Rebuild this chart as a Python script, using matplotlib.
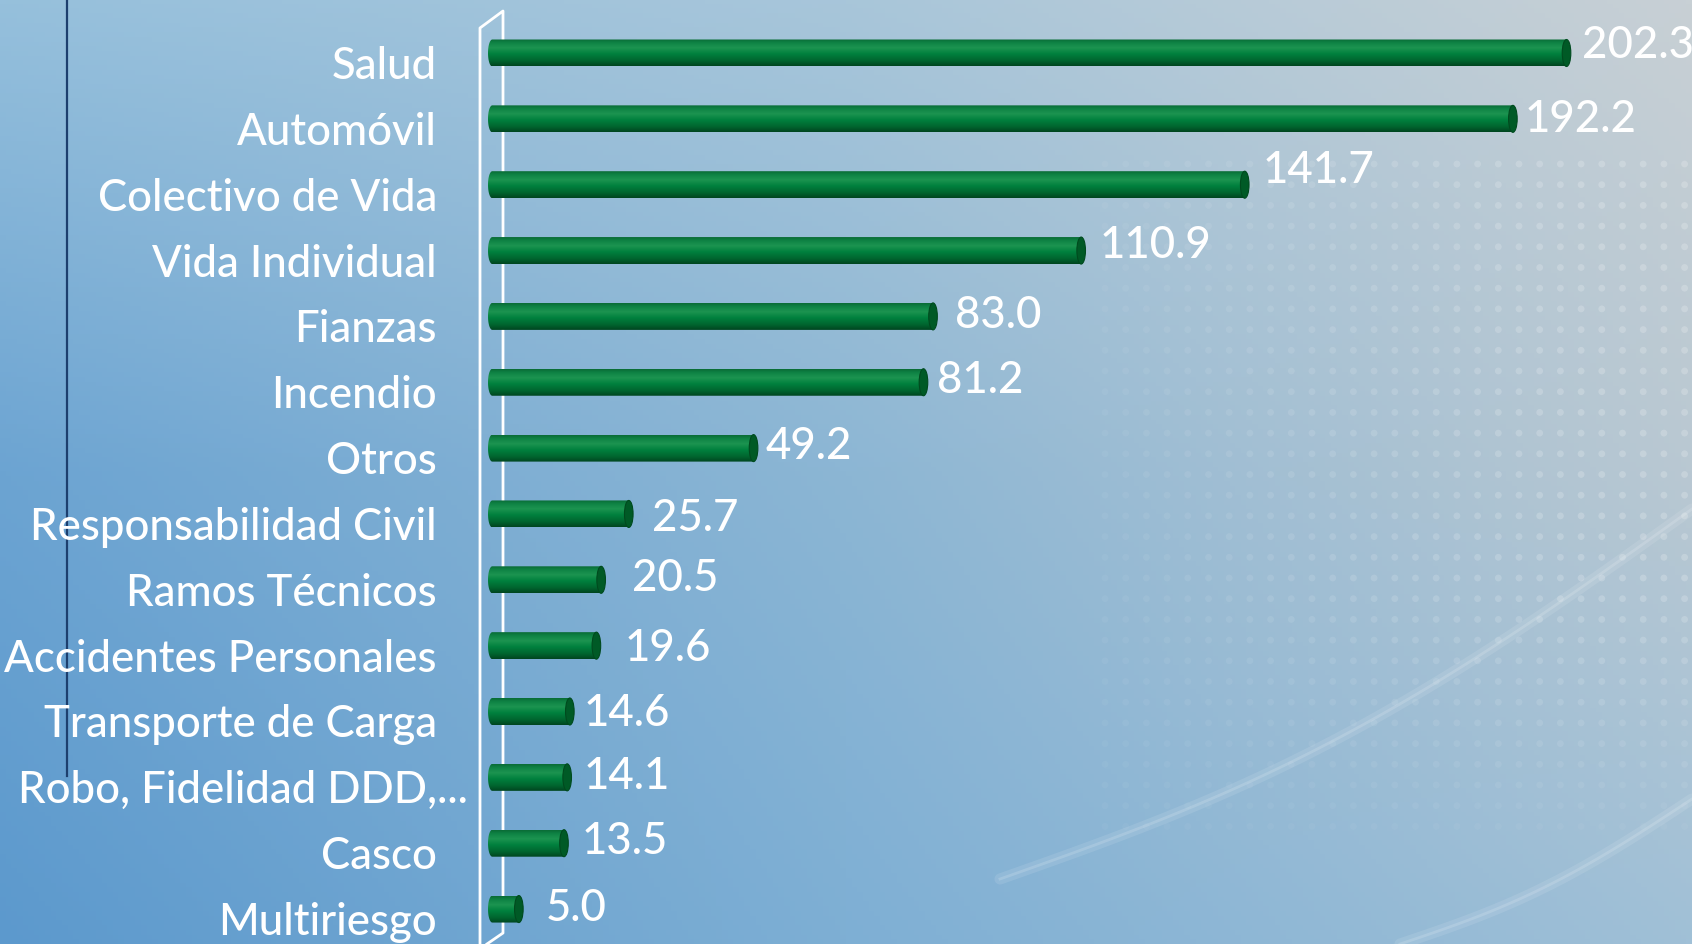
import numpy as np
import matplotlib
matplotlib.use('Agg')
import matplotlib.pyplot as plt
from matplotlib.path import Path
from matplotlib.patches import PathPatch, Ellipse

plt.rcParams['font.family'] = ['Lato', 'DejaVu Sans']

# data
ramos = ['Salud', 'Automóvil', 'Colectivo de Vida', 'Vida Individual', 'Fianzas',
         'Incendio', 'Otros', 'Responsabilidad Civil', 'Ramos Técnicos',
         'Accidentes Personales', 'Transporte de Carga', 'Robo, Fidelidad DDD,...',
         'Casco', 'Multiriesgo']
valores = [202.3, 192.2, 141.7, 110.9, 83.0, 81.2, 49.2, 25.7, 20.5, 19.6, 14.6, 14.1, 13.5, 5.0]

# value label nudges in pixels (Excel 3D places them a bit irregularly)
lbl_dx = [11, 8, 14, 14, 18, 10, 8, 19, 27, 24, 10, 12, 14, 23]
lbl_dy = [4, 12, -3, 6, 11, 10, 10, 16, 10, 14, 14, 11, 10, 11]

W, H = 1692, 945
fig = plt.figure(figsize=(W / 100, H / 100), dpi=100)

# background: soft blue gradient
bg = fig.add_axes([0, 0, 1, 1])
bg.set_xlim(0, W)
bg.set_ylim(H, 0)
bg.axis('off')
ctrl = np.array([
    [[150, 192, 220], [168, 198, 218], [200, 208, 213]],
    [[108, 164, 210], [140, 182, 212], [185, 200, 210]],
    [[92, 153, 205], [126, 175, 212], [160, 192, 215]],
]) / 255.0
nx, ny = 300, 200
xs_ = np.linspace(0, 1, nx)
ys_ = np.linspace(0, 1, ny)
img = np.zeros((ny, nx, 3))
for c in range(3):
    rows = np.stack([np.interp(xs_, [0, 0.5, 1], ctrl[r, :, c]) for r in range(3)])
    for j in range(nx):
        img[:, j, c] = np.interp(ys_, [0, 0.5, 1], rows[:, j])
bg.imshow(img, extent=[0, W, H, 0], aspect='auto', zorder=0)

# faint dotted pattern on the right
gx, gy = np.meshgrid(np.arange(1105, W, 20.7), np.arange(165, 830, 20.7))
fade = np.clip((gx - 1080) / 500, 0, 1) * np.clip((830 - gy) / 250, 0, 1)
cols = [(1, 1, 1, 0.04 + 0.16 * f) for f in fade.ravel()]
bg.scatter(gx.ravel(), gy.ravel(), s=24, facecolors=cols, edgecolors='none', zorder=1)

# light swooshes bottom right
t = np.linspace(0, 1, 100)
for (x0, y0, x1, y1, bend) in [(1000, 880, W, 510, 40), (1400, H, W, 800, 15)]:
    xs = x0 + (x1 - x0) * t
    ys = y0 + (y1 - y0) * t + bend * np.sin(np.pi * t)
    bg.plot(xs, ys, color='white', lw=8, alpha=0.10, zorder=1, solid_capstyle='round')
    bg.plot(xs, ys, color='white', lw=2, alpha=0.15, zorder=1)

# thin dark line at left and the white 3D back wall
bg.plot([67, 67], [0, 777], color='#1d3f6e', lw=1.6, zorder=2)
bg.plot([480, 480, 503, 503, 487], [H, 29, 12, 934, H], color='white', lw=2, zorder=2)

# main axes mapped so the bar bodies start at x=492px
px = 5.31        # pixels per unit
x0px = 492.3
step = 65.85     # pixels between bars
y0px = 54
ax = fig.add_axes([0, 0, 1, 1])
ax.patch.set_alpha(0)
ax.axis('off')
xlim = (-x0px / px, (W - x0px) / px)
ylim = ((H - y0px) / step, -y0px / step)

grad_stops = [0, 0.12, 0.32, 0.55, 0.8, 1]
grad_cols = np.array([[10, 108, 54], [14, 130, 68], [28, 148, 80],
                      [0, 128, 62], [0, 102, 47], [0, 70, 32]]) / 255.0
tt = np.linspace(0, 1, 64)
grad = np.stack([np.interp(tt, grad_stops, grad_cols[:, c]) for c in range(3)], axis=1)[:, None, :]

bh = 0.41
b = bh / 2
a = 4.3 / px
th = np.linspace(0, np.pi, 30)
for i, v in enumerate(valores):
    y = i
    verts = [(0, y - b), (v, y - b), (v, y + b), (0, y + b)]
    verts += [(-a * np.sin(s), y + b * np.cos(s)) for s in th]
    verts.append((0, y - b))
    patch = PathPatch(Path(verts), facecolor='none', edgecolor='none')
    ax.add_patch(patch)
    im = ax.imshow(grad, extent=[-a, v, y + b, y - b], aspect='auto', zorder=3)
    im.set_clip_path(patch)
    ax.add_patch(Ellipse((v, y), 2 * a, 2 * b, facecolor='#005a26', edgecolor='#004a1e',
                         lw=0.8, zorder=4))
    ax.text(v + (lbl_dx[i] + 4) / px, y + lbl_dy[i] / step, f'{v:.1f}', color='white',
            fontsize=31.5, fontweight='medium', ha='left', va='baseline', zorder=5)
    right = 437 + (31 if ramos[i].endswith('...') else 0)
    ax.text((right - x0px) / px, y + 25 / step, ramos[i], color='white', fontsize=31.5,
            fontweight='medium', ha='right', va='baseline', zorder=5)

ax.set_xlim(*xlim)
ax.set_ylim(*ylim)

fig.savefig('out.png', dpi=100)
